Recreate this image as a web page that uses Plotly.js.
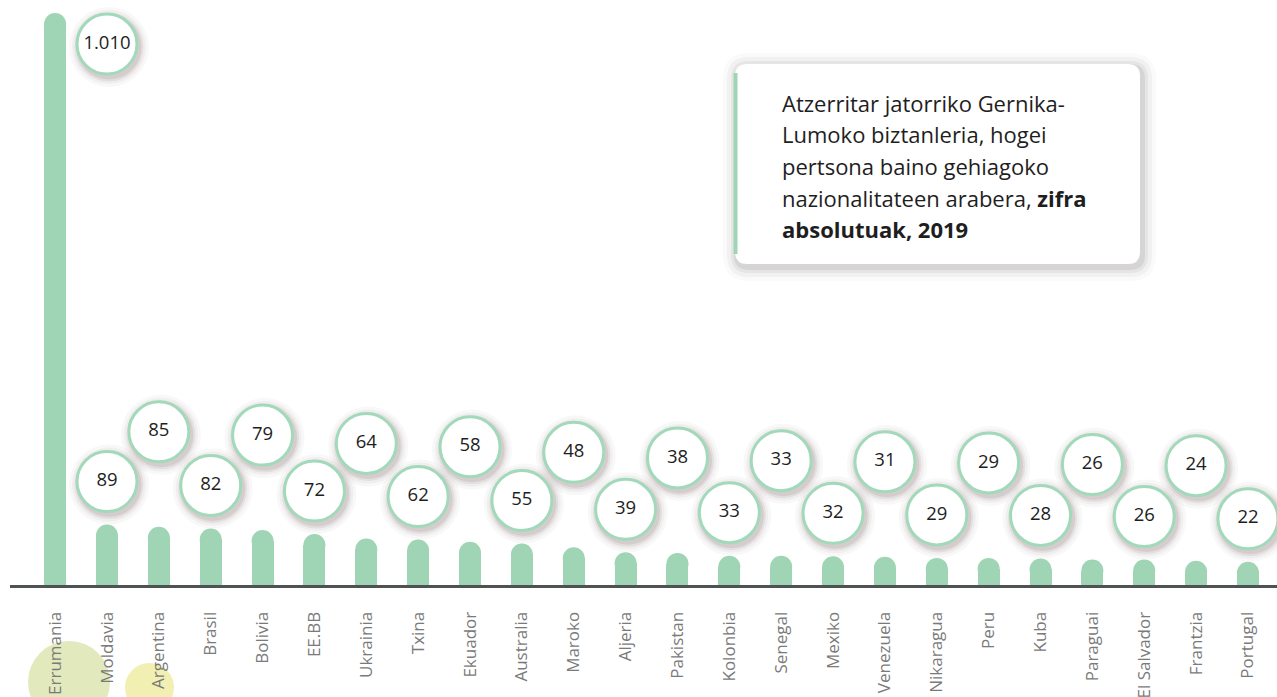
<!DOCTYPE html>
<html>
<head>
<meta charset="utf-8">
<script src="https://cdn.plot.ly/plotly-3.0.1.min.js"></script>
<style>
html,body{margin:0;padding:0;background:#fff;}
#chart{width:1277px;height:697px;}
</style>
</head>
<body>
<div id="chart"></div>
<script>
// ---- data ----
const categories = ["Errumania","Moldavia","Argentina","Brasil","Bolivia","EE.BB","Ukrainia","Txina","Ekuador","Australia","Maroko","Aljeria","Pakistan","Kolonbia","Senegal","Mexiko","Venezuela","Nikaragua","Peru","Kuba","Paraguai","El Salvador","Frantzia","Portugal"];
const values = [1010,89,85,82,79,72,64,62,58,55,48,39,38,33,33,32,31,29,29,28,26,26,24,22];
const valueLabels = ["1.010","89","85","82","79","72","64","62","58","55","48","39","38","33","33","32","31","29","29","28","26","26","24","22"];
const titleLines = ["Atzerritar jatorriko Gernika-","Lumoko biztanleria, hogei","pertsona baino gehiagoko","nazionalitateen arabera, <b>zifra</b>","<b>absolutuak, 2019</b>"];

// ---- geometry ----
const W = 1277, H = 697;
const M = {l:10, r:0, t:0, b:112};
const plotW = W - M.l - M.r, plotH = H - M.t - M.b;
const yMax = 1053.3;
const xRange = [-0.87, 23.56];
const pxPerY = plotH / yMax;
const pxPerX = plotW / (xRange[1]-xRange[0]);
const X = px => (px - M.l) / plotW;          // pixel -> paper
const Y = py => (H - M.b - py) / plotH;

const GREEN = "#9fd5b5";
const idx = categories.map((c,i)=>i);

// label placement (pixel offsets above the bar value)
const lowOff = 54, highOff = 106;
const lx = [], ly = [];
values.forEach((v,i)=>{
  if (i===0) { lx.push(i+1); ly.push(v - 20/pxPerY); }
  else { lx.push(i); ly.push(v + ((i%2===1)? lowOff : highOff)/pxPerY); }
});

const traces = [];
// bars
traces.push({type:"bar", x:idx, y:values, width:22/pxPerX, marker:{color:GREEN, line:{width:0}}, hoverinfo:"skip"});
// rounded caps
traces.push({type:"scatter", mode:"markers", x:idx, y:values, cliponaxis:false,
  marker:{size:22, color:GREEN, line:{width:0}}, hoverinfo:"skip"});
// shadows for label circles
[[80,0.04],[74,0.06],[69,0.09],[65,0.12]].forEach(([s,o])=>{
  traces.push({type:"scatter", mode:"markers", x:lx.map(v=>v+2/pxPerX), y:ly.map(v=>v-3/pxPerY), cliponaxis:false,
    marker:{size:s, color:"#6b5252", opacity:o, line:{width:0}}, hoverinfo:"skip"});
});
// label circles
traces.push({type:"scatter", mode:"markers+text", x:lx, y:ly, cliponaxis:false,
  text:valueLabels, textposition:"middle center",
  textfont:{family:"Open Sans", size:18.5, color:"#1e1e1e"},
  marker:{size:60, color:"#ffffff", line:{width:3, color:"#a3d9bb"}}, hoverinfo:"skip"});

// ---- shapes ----
function rr(x0,y0,x1,y1,r){
  const p = (x,y)=> X(x)+","+Y(y);
  return "M"+p(x0+r,y0)+" L"+p(x1-r,y0)+" Q"+p(x1,y0)+" "+p(x1,y0+r)+
    " L"+p(x1,y1-r)+" Q"+p(x1,y1)+" "+p(x1-r,y1)+
    " L"+p(x0+r,y1)+" Q"+p(x0,y1)+" "+p(x0,y1-r)+
    " L"+p(x0,y0+r)+" Q"+p(x0,y0)+" "+p(x0+r,y0)+" Z";
}
const shapes = [];
// decorative blobs
shapes.push({type:"circle", xref:"paper", yref:"paper", layer:"below",
  x0:X(28), x1:X(110), y0:Y(723), y1:Y(641), fillcolor:"#e2e9bc", line:{width:0}});
shapes.push({type:"circle", xref:"paper", yref:"paper", layer:"below",
  x0:X(125), x1:X(174), y0:Y(712), y1:Y(663), fillcolor:"#f2efb3", line:{width:0}});
// box shadow
[[14,0.03],[10,0.05],[6,0.08],[3,0.11]].forEach(([g,o])=>{
  shapes.push({type:"path", xref:"paper", yref:"paper", layer:"above",
    path: rr(735-g+2, 64-g+3, 1140+g+2, 264+g+3, 12+g), fillcolor:"rgba(95,85,85,"+o+")", line:{width:0}});
});
// box
shapes.push({type:"path", xref:"paper", yref:"paper", layer:"above",
  path: rr(735,64,1140,264,12), fillcolor:"#ffffff", line:{width:0}});
shapes.push({type:"line", xref:"paper", yref:"paper", layer:"above",
  x0:X(735.5), x1:X(735.5), y0:Y(73), y1:Y(254), line:{color:GREEN, width:4}});

const annotations = titleLines.map((t,i)=>({
  xref:"paper", yref:"paper", x:X(780), y:Y(103 + i*31.5), xanchor:"left", yanchor:"middle",
  text:t, showarrow:false, align:"left",
  font:{family:"Open Sans", size:22, color:"#1e1e1e"}
}));

const layout = {
  width:W, height:H, margin:M, paper_bgcolor:"#ffffff", plot_bgcolor:"rgba(0,0,0,0)",
  showlegend:false, bargap:0,
  xaxis:{range:xRange, tickmode:"array", tickvals:idx, ticktext:categories, tickangle:-90,
    showgrid:false, zeroline:false, showline:true, linecolor:"#4f5252", linewidth:3,
    ticks:"", ticklabelstandoff:17,
    tickfont:{family:"Open Sans", size:17, color:"#7a7a7a"}, fixedrange:true},
  yaxis:{range:[0,yMax], visible:false, showgrid:false, zeroline:false, fixedrange:true},
  shapes:shapes, annotations:annotations
};

Plotly.newPlot("chart", traces, layout, {displayModeBar:false, staticPlot:true});
</script>
</body>
</html>
